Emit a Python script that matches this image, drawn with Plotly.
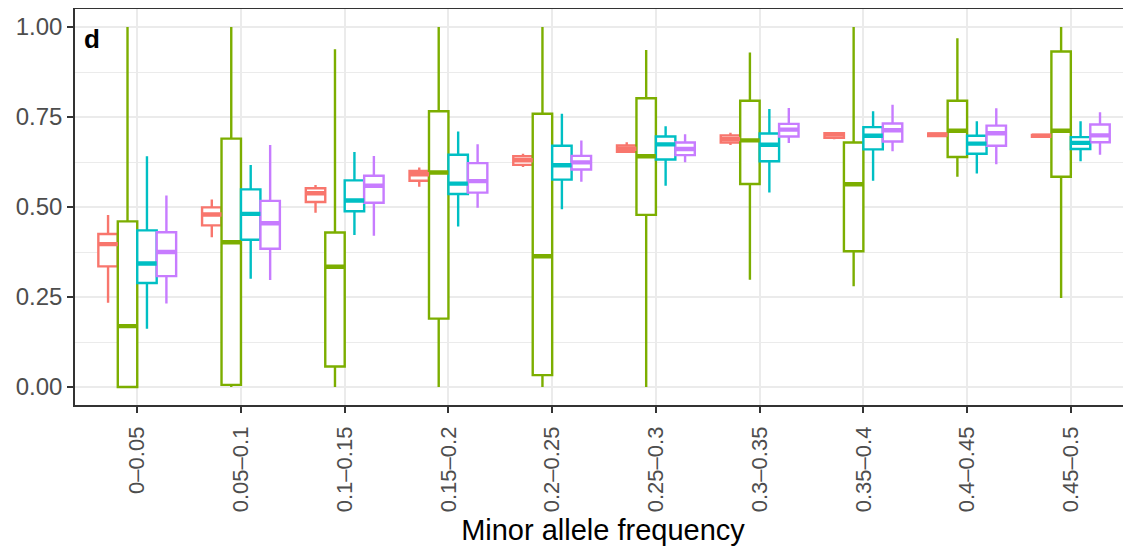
import plotly.graph_objects as go

categories = ["0\u20130.05", "0.05\u20130.1", "0.1\u20130.15", "0.15\u20130.2", "0.2\u20130.25",
              "0.25\u20130.3", "0.3\u20130.35", "0.35\u20130.4", "0.4\u20130.45", "0.45\u20130.5"]

# series A (red)
a_low = [0.234, 0.416, 0.484, 0.556, 0.611, 0.650, 0.672, 0.688, 0.696, 0.693]
a_q1 = [0.335, 0.449, 0.514, 0.573, 0.617, 0.653, 0.679, 0.692, 0.697, 0.695]
a_med = [0.397, 0.479, 0.538, 0.591, 0.630, 0.662, 0.689, 0.701, 0.701, 0.698]
a_q3 = [0.425, 0.499, 0.552, 0.600, 0.641, 0.671, 0.699, 0.705, 0.704, 0.700]
a_high = [0.478, 0.521, 0.561, 0.610, 0.648, 0.680, 0.706, 0.707, 0.706, 0.702]

# series B (green)
b_low = [0.0, 0.0, 0.0, 0.0, 0.0, 0.0, 0.298, 0.280, 0.584, 0.247]
b_q1 = [0.0, 0.006, 0.057, 0.190, 0.033, 0.478, 0.564, 0.377, 0.639, 0.584]
b_med = [0.169, 0.402, 0.334, 0.596, 0.363, 0.641, 0.685, 0.563, 0.712, 0.712]
b_q3 = [0.460, 0.690, 0.429, 0.766, 0.759, 0.802, 0.795, 0.679, 0.795, 0.932]
b_high = [1.0, 1.0, 0.938, 1.0, 1.0, 0.936, 0.929, 1.0, 0.969, 1.0]

# series C (cyan)
c_low = [0.162, 0.301, 0.422, 0.446, 0.494, 0.559, 0.540, 0.573, 0.593, 0.627]
c_q1 = [0.289, 0.409, 0.488, 0.536, 0.576, 0.632, 0.627, 0.660, 0.648, 0.661]
c_med = [0.343, 0.481, 0.518, 0.565, 0.616, 0.674, 0.673, 0.698, 0.676, 0.678]
c_q3 = [0.435, 0.549, 0.574, 0.645, 0.670, 0.696, 0.704, 0.722, 0.698, 0.694]
c_high = [0.641, 0.617, 0.653, 0.710, 0.759, 0.724, 0.772, 0.766, 0.738, 0.738]

# series D (purple)
d_low = [0.232, 0.297, 0.420, 0.498, 0.570, 0.624, 0.678, 0.655, 0.619, 0.645]
d_q1 = [0.308, 0.384, 0.512, 0.540, 0.604, 0.644, 0.696, 0.682, 0.670, 0.680]
d_med = [0.375, 0.455, 0.559, 0.572, 0.624, 0.661, 0.715, 0.713, 0.705, 0.699]
d_q3 = [0.430, 0.517, 0.587, 0.622, 0.642, 0.679, 0.731, 0.732, 0.726, 0.729]
d_high = [0.532, 0.672, 0.642, 0.674, 0.685, 0.702, 0.775, 0.784, 0.774, 0.763]

series = [
    ("A", "#F8766D", a_low, a_q1, a_med, a_q3, a_high),
    ("B", "#7CAE00", b_low, b_q1, b_med, b_q3, b_high),
    ("C", "#00BFC4", c_low, c_q1, c_med, c_q3, c_high),
    ("D", "#C77CFF", d_low, d_q1, d_med, d_q3, d_high),
]

FONT = "Liberation Sans, Arial, sans-serif"

fig = go.Figure()
for name, col, lo, q1, med, q3, hi in series:
    fig.add_trace(go.Box(
        name=name, x=categories, lowerfence=lo, q1=q1, median=med, q3=q3, upperfence=hi,
        offsetgroup=name, alignmentgroup="all",
        line=dict(color=col, width=2.4), fillcolor="white", marker=dict(color=col),
        boxpoints=False, whiskerwidth=0, showlegend=False, hoverinfo="skip",
    ))
# thicker median bars (ggplot style), drawn as flat boxes at the median
for name, col, lo, q1, med, q3, hi in series:
    fig.add_trace(go.Box(
        name=name + " median", x=categories, lowerfence=med, q1=med, median=med, q3=med, upperfence=med,
        offsetgroup=name, alignmentgroup="all",
        line=dict(color=col, width=4.4), fillcolor=col, marker=dict(color=col),
        boxpoints=False, whiskerwidth=0, showlegend=False, hoverinfo="skip",
    ))

fig.update_layout(
    width=1123, height=539,
    margin=dict(l=67, r=0, t=1, b=142, autoexpand=False),
    paper_bgcolor="white", plot_bgcolor="white",
    boxmode="group", boxgap=0.25, boxgroupgap=0,
    font=dict(family=FONT, color="#4D4D4D"),
    showlegend=False,
)
fig.update_xaxes(
    range=[-0.6, 9.58], tickangle=-90, automargin=False, ticklabelstandoff=5,
    tickfont=dict(size=22, color="#4D4D4D"),
    showgrid=True, gridcolor="#EBEBEB", gridwidth=1.6,
    showline=True, linecolor="#333333", linewidth=1.6, mirror=True,
    ticks="outside", ticklen=6, tickcolor="#333333", tickwidth=1.6,
    title=dict(text="Minor allele frequency", font=dict(size=29, color="black"), standoff=8),
    zeroline=False,
)
fig.update_yaxes(
    range=[-0.05, 1.05], tickvals=[0, 0.25, 0.5, 0.75, 1.0], tickformat=".2f", automargin=False,
    tickfont=dict(size=24, color="#4D4D4D"),
    showgrid=True, gridcolor="#EBEBEB", gridwidth=1.6,
    minor=dict(tickvals=[0.125, 0.375, 0.625, 0.875], showgrid=True, gridcolor="#EBEBEB", gridwidth=0.8, ticks=""),
    showline=True, linecolor="#333333", linewidth=1.6,
    ticks="outside", ticklen=6, tickcolor="#333333", tickwidth=1.6,
    zeroline=False,
)
fig.add_annotation(text="<b>d</b>", xref="paper", yref="paper", x=0.007, y=0.968,
                   xanchor="left", yanchor="top", showarrow=False,
                   font=dict(size=26, color="black", family=FONT))

fig.write_html("out.html")
